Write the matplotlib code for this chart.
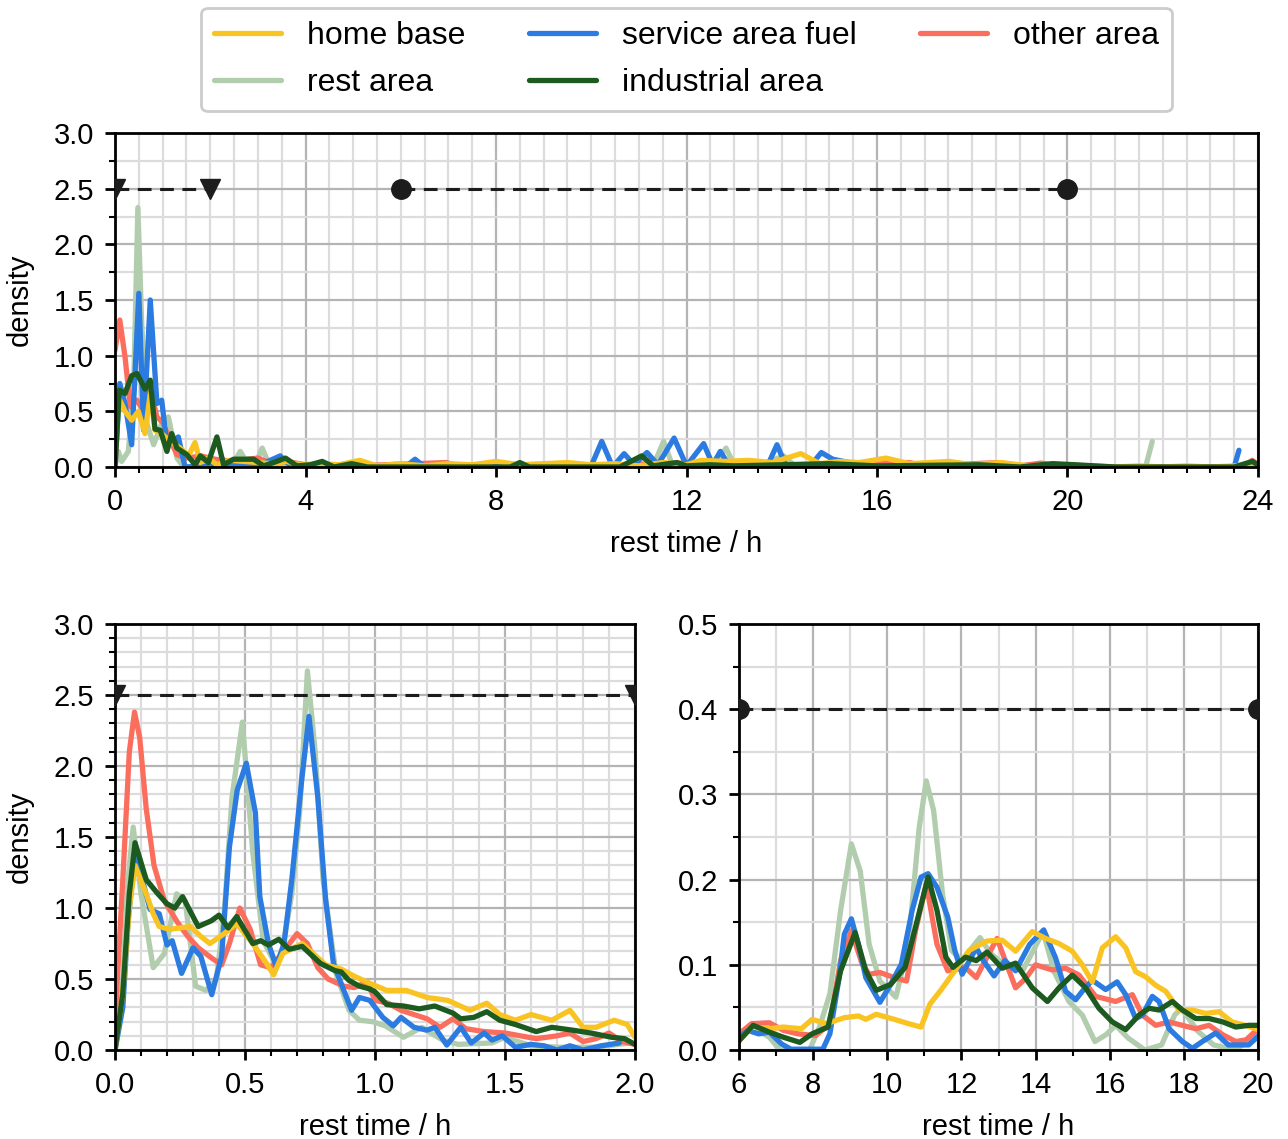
import numpy as np
import matplotlib
matplotlib.use("Agg")
import matplotlib.pyplot as plt
from matplotlib.ticker import MultipleLocator

plt.rcParams['font.family'] = ['Liberation Sans', 'DejaVu Sans']
plt.rcParams['font.size'] = 21

# categories and colours
categories = ['home base', 'rest area', 'service area fuel', 'industrial area', 'other area']
colors = {'home base': '#f9c422', 'rest area': '#b1cdae', 'service area fuel': '#2b7be0',
          'industrial area': '#1d5a1f', 'other area': '#fb6e5e'}
draw_order = ['rest area', 'other area', 'service area fuel', 'home base', 'industrial area']

# threshold ranges (h) and the density level they are drawn at
short_range = [0, 2]
long_range = [6, 20]
level_top = 2.5
level_short = 2.5
level_long = 0.4

# ---- top panel: 0-24 h
top_home_t = [0, 0.07, 0.21, 0.35, 0.49, 0.63, 0.74, 0.84, 0.98, 1.16, 1.37, 1.54, 1.68, 1.79, 1.96, 2.14,
              2.4, 2.7, 3.0, 3.3, 3.6, 3.9, 4.3, 4.7, 5.14, 5.5, 6.0, 6.5, 7.0, 7.5, 8.0, 8.5, 9.0, 9.5,
              10.0, 10.5, 11.0, 11.5, 12.0, 12.3, 12.8, 13.3, 13.8, 14.4, 14.8, 15.2, 15.63, 16.19, 16.68,
              17.1, 17.52, 18.0, 18.6, 19.2, 19.8, 20.5, 21.0, 21.5, 22.0, 22.5, 23.0, 23.5, 24.0]
top_home_d = [0, 0.63, 0.5, 0.42, 0.5, 0.3, 0.66, 0.33, 0.3, 0.23, 0.17, 0.1, 0.22, 0.04, 0.08, 0.02,
              0.06, 0.05, 0.04, 0.03, 0.05, 0.02, 0.03, 0.02, 0.06, 0.01, 0.03, 0.01, 0.03, 0.02, 0.05, 0.02,
              0.03, 0.04, 0.02, 0.03, 0.01, 0.04, 0.02, 0.06, 0.05, 0.06, 0.04, 0.12, 0.03, 0.05, 0.04, 0.08,
              0.03, 0.04, 0.05, 0.02, 0.04, 0.01, 0.02, 0.01, 0.0, 0.01, 0.0, 0.01, 0.0, 0.01, 0.03]
top_rest_t = [0, 0.07, 0.14, 0.28, 0.39, 0.48, 0.56, 0.67, 0.81, 0.98, 1.12, 1.3, 1.44, 2.0, 2.45, 2.63,
              2.8, 2.95, 3.09, 3.25, 3.6, 4.5, 6, 8, 9.5, 10.5, 11.3, 11.52, 11.7, 12.2, 12.6, 12.83, 13.0,
              13.5, 14.04, 14.3, 16, 18, 20, 21.64, 21.78]
top_rest_d = [0, 0.14, 0.05, 0.14, 0.69, 2.33, 1.29, 0.39, 0.2, 0.39, 0.45, 0.08, 0.0, 0.0, 0.01, 0.14,
              0.02, 0.02, 0.17, 0.01, 0.01, 0.0, 0.0, 0.0, 0.0, 0.02, 0.01, 0.23, 0.02, 0.01, 0.03, 0.17, 0.02,
              0.01, 0.1, 0.0, 0.0, 0.0, 0.0, 0.0, 0.23]
top_fuel_t = [0, 0.1, 0.21, 0.35, 0.5, 0.6, 0.74, 0.88, 0.98, 1.09, 1.33, 1.47, 2.0, 2.5, 3.0, 3.47, 3.7,
              4.5, 5.5, 6.1, 6.3, 6.5, 7.0, 7.5, 8.5, 9.5, 10.0, 10.22, 10.45, 10.69, 10.9, 11.17, 11.4,
              11.74, 12.0, 12.36, 12.55, 12.71, 12.9, 13.3, 13.7, 13.9, 14.1, 14.6, 14.83, 15.07, 15.42,
              15.7, 17, 19, 21, 23.0, 23.5, 23.6]
top_fuel_d = [0, 0.75, 0.57, 0.2, 1.56, 0.33, 1.5, 0.57, 0.6, 0.2, 0.27, 0.0, 0.01, 0.02, 0.01, 0.1, 0.0,
              0.0, 0.0, 0.0, 0.07, 0.0, 0.0, 0.01, 0.0, 0.0, 0.01, 0.23, 0.0, 0.12, 0.02, 0.13, 0.02,
              0.26, 0.01, 0.21, 0.02, 0.14, 0.01, 0.02, 0.01, 0.2, 0.0, 0.01, 0.13, 0.07, 0.04,
              0.0, 0.0, 0.0, 0.0, 0.0, 0.0, 0.15]
top_ind_t = [0, 0.09, 0.21, 0.35, 0.46, 0.63, 0.74, 0.84, 0.95, 1.09, 1.19, 1.3, 1.51, 1.68, 1.79, 1.96,
             2.14, 2.28, 2.49, 2.91, 3.12, 3.33, 3.58, 3.82, 4.1, 4.35, 4.6, 4.97, 5.3, 8.3, 8.5, 8.7,
             10.6, 11.06, 11.3, 11.8, 12.0, 12.5, 13.0, 14.0, 15.0, 16.0, 18.15, 19.0, 19.69, 20.17,
             21, 23.5, 23.88, 24]
top_ind_d = [0, 0.69, 0.66, 0.82, 0.84, 0.7, 0.78, 0.34, 0.33, 0.14, 0.3, 0.17, 0.11, 0.02, 0.1, 0.04,
             0.27, 0.02, 0.07, 0.07, 0.01, 0.04, 0.08, 0.01, 0.02, 0.05, 0.0, 0.03, 0.0, 0.0, 0.04, 0.0,
             0.0, 0.1, 0.01, 0.04, 0.01, 0.02, 0.01, 0.02, 0.03, 0.01, 0.02, 0.0, 0.03, 0.02,
             0.0, 0.0, 0.05, 0.02]
top_other_t = [0, 0.1, 0.21, 0.32, 0.46, 0.6, 0.74, 0.88, 1.0, 1.15, 1.3, 1.5, 1.8, 2.1, 2.5, 2.8, 3.0,
               3.3, 3.6, 4.0, 5.0, 6.96, 7.2, 8.0, 10.0, 11.3, 12.5, 13.0, 16.68, 17.0, 18.55, 19.0,
               19.44, 20.0, 23.7, 23.88, 24.0]
top_other_d = [1.05, 1.32, 0.99, 0.54, 0.6, 0.5, 0.7, 0.45, 0.4, 0.25, 0.11, 0.08, 0.1, 0.07, 0.05, 0.07,
               0.08, 0.03, 0.05, 0.02, 0.01, 0.04, 0.01, 0.01, 0.01, 0.03, 0.04, 0.01, 0.04, 0.01, 0.04,
               0.01, 0.035, 0.0, 0.0, 0.06, 0.02]

# ---- bottom left: 0-2 h
bl_home_t = [0, 0.03, 0.055, 0.077, 0.12, 0.147, 0.17, 0.21, 0.29, 0.33, 0.365, 0.42, 0.468, 0.53, 0.583,
             0.61, 0.645, 0.72, 0.75, 0.81, 0.87, 0.92, 0.98, 1.045, 1.12, 1.2, 1.28, 1.365, 1.43, 1.48,
             1.54, 1.6, 1.68, 1.75, 1.8, 1.85, 1.92, 1.97, 2.0]
bl_home_d = [0, 0.4, 1.0, 1.3, 1.1, 0.96, 0.87, 0.85, 0.87, 0.8, 0.75, 0.82, 0.89, 0.75, 0.61,
             0.53, 0.68, 0.75, 0.7, 0.6, 0.57, 0.52, 0.47, 0.42, 0.42, 0.37, 0.35, 0.28, 0.33, 0.25,
             0.21, 0.25, 0.21, 0.28, 0.16, 0.16, 0.21, 0.18, 0.09]
bl_rest_t = [0, 0.03, 0.05, 0.07, 0.1, 0.147, 0.19, 0.237, 0.27, 0.31, 0.35, 0.39, 0.42, 0.45, 0.49,
             0.53, 0.57, 0.61, 0.64, 0.68, 0.71, 0.74, 0.77, 0.8, 0.85, 0.9, 0.94, 0.99, 1.04, 1.11,
             1.18, 1.26, 1.32, 1.45, 1.5, 1.6, 1.71, 1.85, 1.98]
bl_rest_d = [0, 0.5, 1.2, 1.57, 1.1, 0.58, 0.68, 1.1, 1.05, 0.45, 0.42, 0.5, 0.96, 1.78, 2.31,
             1.39, 0.77, 0.63, 0.66, 1.1, 1.67, 2.67, 2.1, 1.2, 0.54, 0.28, 0.21, 0.2, 0.17, 0.09,
             0.16, 0.07, 0.04, 0.05, 0.09, 0.03, 0.02, 0.02, 0.05]
bl_fuel_t = [0, 0.03, 0.05, 0.075, 0.105, 0.135, 0.17, 0.2, 0.22, 0.256, 0.3, 0.33, 0.372, 0.41, 0.44,
             0.47, 0.505, 0.54, 0.557, 0.59, 0.62, 0.65, 0.68, 0.718, 0.746, 0.78, 0.81, 0.84, 0.88,
             0.91, 0.94, 0.98, 1.03, 1.07, 1.1, 1.15, 1.2, 1.23, 1.276, 1.33, 1.37, 1.42, 1.45, 1.49,
             1.54, 1.6, 1.65, 1.7, 1.75, 1.8, 1.87, 1.94]
bl_fuel_d = [0, 0.3, 0.9, 1.36, 1.2, 0.99, 0.96, 0.74, 0.77, 0.54, 0.72, 0.66, 0.39, 0.66, 1.43,
             1.83, 2.02, 1.67, 1.08, 0.75, 0.59, 0.75, 1.2, 1.9, 2.35, 1.78, 1.06, 0.61, 0.42,
             0.28, 0.37, 0.35, 0.23, 0.17, 0.23, 0.16, 0.14, 0.16, 0.035, 0.16, 0.05, 0.12, 0.07, 0.1,
             0.02, 0.04, 0.03, 0.0, 0.03, 0.0, 0.03, 0.05]
bl_ind_t = [0, 0.03, 0.055, 0.077, 0.12, 0.165, 0.2, 0.23, 0.26, 0.32, 0.37, 0.4, 0.435, 0.468, 0.53,
            0.56, 0.59, 0.63, 0.67, 0.72, 0.79, 0.845, 0.87, 0.9, 0.94, 0.98, 1.0, 1.045, 1.11, 1.17,
            1.23, 1.3, 1.33, 1.38, 1.43, 1.48, 1.54, 1.62, 1.68, 1.76, 1.83, 1.91, 1.96, 2.0]
bl_ind_d = [0, 0.4, 1.1, 1.46, 1.2, 1.1, 1.03, 1.0, 1.08, 0.87, 0.91, 0.95, 0.86, 0.94, 0.75,
            0.77, 0.74, 0.78, 0.71, 0.73, 0.61, 0.56, 0.55, 0.49, 0.45, 0.43, 0.41, 0.32, 0.31, 0.29,
            0.31, 0.26, 0.22, 0.23, 0.27, 0.21, 0.18, 0.13, 0.16, 0.14, 0.12, 0.09, 0.08, 0.04]
bl_other_t = [0, 0.03, 0.055, 0.075, 0.095, 0.12, 0.15, 0.19, 0.24, 0.28, 0.32, 0.37, 0.41, 0.44, 0.48,
              0.52, 0.56, 0.6, 0.65, 0.7, 0.74, 0.78, 0.82, 0.88, 0.92, 0.97, 1.0, 1.05, 1.1, 1.15, 1.2,
              1.25, 1.3, 1.35, 1.42, 1.5, 1.56, 1.62, 1.7, 1.75, 1.8, 1.85, 1.9, 1.95, 2.0]
bl_other_d = [0.2, 1.2, 2.1, 2.38, 2.2, 1.7, 1.3, 1.05, 0.9, 0.8, 0.72, 0.65, 0.6, 0.75, 1.0,
              0.85, 0.6, 0.58, 0.7, 0.82, 0.75, 0.58, 0.5, 0.45, 0.44, 0.48, 0.35, 0.33, 0.28, 0.25, 0.22,
              0.16, 0.22, 0.15, 0.13, 0.12, 0.1, 0.08, 0.1, 0.12, 0.06, 0.08, 0.12, 0.06, 0.04]

# ---- bottom right: 6-20 h
br_home_t = [6, 6.34, 6.82, 7.2, 7.68, 7.97, 8.36, 8.84, 9.22, 9.42, 9.7, 10.19, 10.57, 10.91, 11.15,
             11.44, 11.82, 12.21, 12.69, 13.1, 13.46, 13.91, 14.27, 14.63, 14.99, 15.26, 15.53, 15.8,
             16.16, 16.43, 16.7, 16.97, 17.24, 17.51, 17.87, 18.23, 18.59, 18.95, 19.3, 19.66, 20]
br_home_d = [0.011, 0.027, 0.025, 0.027, 0.025, 0.036, 0.031, 0.038, 0.04, 0.036, 0.042, 0.036, 0.031,
             0.027, 0.054, 0.07, 0.093, 0.117, 0.128, 0.129, 0.116, 0.139, 0.131, 0.125, 0.116, 0.1,
             0.08, 0.12, 0.133, 0.12, 0.092, 0.086, 0.076, 0.069, 0.047, 0.047, 0.043, 0.045, 0.033,
             0.029, 0.024]
br_rest_t = [6, 6.34, 6.82, 7.1, 7.9, 8.17, 8.45, 8.74, 9.03, 9.27, 9.51, 9.8, 10.23, 10.57, 10.86,
             11.05, 11.25, 11.49, 11.73, 12.01, 12.5, 12.79, 13.17, 13.65, 13.94, 14.2, 14.5, 14.9,
             15.26, 15.6, 15.9, 16.16, 16.5, 16.95, 17.4, 17.75, 17.93, 18.38, 18.8, 19.4, 20]
br_rest_d = [0.011, 0.027, 0.015, 0.0, 0.0, 0.027, 0.066, 0.164, 0.242, 0.21, 0.124, 0.081, 0.062,
             0.124, 0.261, 0.316, 0.281, 0.183, 0.117, 0.105, 0.132, 0.113, 0.1, 0.093, 0.117, 0.139,
             0.092, 0.057, 0.041, 0.01, 0.018, 0.029, 0.014, 0.0, 0.006, 0.041, 0.049, 0.022, 0.006,
             0.0, 0.02]
br_fuel_t = [6, 6.24, 6.53, 6.82, 7.15, 7.4, 8.26, 8.45, 8.7, 8.84, 9.03, 9.22, 9.42, 9.8, 10.09,
             10.38, 10.67, 10.91, 11.1, 11.34, 11.63, 11.82, 12.02, 12.4, 12.59, 12.88, 13.17, 13.46,
             13.84, 14.22, 14.54, 14.81, 15.08, 15.26, 15.53, 15.89, 16.2, 16.43, 16.7, 16.88, 17.15,
             17.33, 17.6, 17.96, 18.23, 18.5, 18.86, 19.2, 19.75, 20]
br_fuel_d = [0.015, 0.023, 0.019, 0.021, 0.007, 0.001, 0.001, 0.019, 0.085, 0.136, 0.154, 0.124,
             0.085, 0.056, 0.077, 0.101, 0.164, 0.203, 0.207, 0.191, 0.156, 0.117, 0.089, 0.12, 0.105,
             0.087, 0.105, 0.093, 0.124, 0.141, 0.108, 0.069, 0.059, 0.069, 0.082, 0.071, 0.08, 0.065,
             0.037, 0.041, 0.063, 0.057, 0.025, 0.01, 0.002, 0.01, 0.02, 0.006, 0.006, 0.016]
br_ind_t = [6, 6.38, 6.82, 7.2, 7.64, 7.97, 8.4, 8.74, 9.13, 9.42, 9.7, 10.09, 10.48, 10.76, 11.1,
            11.34, 11.58, 11.77, 12.11, 12.4, 12.69, 13.1, 13.46, 13.91, 14.32, 14.63, 14.99, 15.35,
            15.71, 16.07, 16.43, 16.79, 17.06, 17.33, 17.69, 17.96, 18.32, 18.68, 19.05, 19.4, 19.75, 20]
br_ind_d = [0.011, 0.029, 0.021, 0.015, 0.009, 0.019, 0.027, 0.093, 0.138, 0.093, 0.07, 0.077, 0.097,
            0.144, 0.203, 0.164, 0.109, 0.097, 0.109, 0.105, 0.115, 0.096, 0.102, 0.073, 0.057, 0.073,
            0.088, 0.073, 0.049, 0.033, 0.024, 0.041, 0.049, 0.047, 0.057, 0.047, 0.037, 0.037, 0.033,
            0.027, 0.029, 0.029]
br_other_t = [6, 6.34, 6.82, 7.2, 7.59, 8.07, 8.45, 8.74, 9.03, 9.32, 9.51, 9.8, 10.19, 10.52, 10.76,
              11.05, 11.34, 11.63, 12.1, 12.4, 12.69, 12.96, 13.19, 13.46, 13.73, 14.0, 14.45, 14.81,
              15.17, 15.62, 16.16, 16.61, 16.88, 17.24, 17.6, 17.96, 18.32, 18.68, 19.05, 19.4, 19.68, 20]
br_other_d = [0.019, 0.031, 0.032, 0.023, 0.019, 0.017, 0.031, 0.105, 0.14, 0.101, 0.089, 0.091,
              0.085, 0.081, 0.14, 0.195, 0.124, 0.093, 0.097, 0.085, 0.109, 0.131, 0.104, 0.073, 0.084,
              0.1, 0.094, 0.096, 0.088, 0.063, 0.057, 0.065, 0.041, 0.029, 0.033, 0.029, 0.025, 0.029,
              0.018, 0.01, 0.012, 0.025]

top_series = {'home base': (top_home_t, top_home_d), 'rest area': (top_rest_t, top_rest_d),
              'service area fuel': (top_fuel_t, top_fuel_d), 'industrial area': (top_ind_t, top_ind_d),
              'other area': (top_other_t, top_other_d)}
bl_series = {'home base': (bl_home_t, bl_home_d), 'rest area': (bl_rest_t, bl_rest_d),
             'service area fuel': (bl_fuel_t, bl_fuel_d), 'industrial area': (bl_ind_t, bl_ind_d),
             'other area': (bl_other_t, bl_other_d)}
br_series = {'home base': (br_home_t, br_home_d), 'rest area': (br_rest_t, br_rest_d),
             'service area fuel': (br_fuel_t, br_fuel_d), 'industrial area': (br_ind_t, br_ind_d),
             'other area': (br_other_t, br_other_d)}


def style_axes(ax, xlim, ylim, xmaj, xmin, ymaj, ymin):
    ax.set_xlim(*xlim)
    ax.set_ylim(*ylim)
    ax.xaxis.set_major_locator(MultipleLocator(xmaj))
    ax.xaxis.set_minor_locator(MultipleLocator(xmin))
    ax.yaxis.set_major_locator(MultipleLocator(ymaj))
    ax.yaxis.set_minor_locator(MultipleLocator(ymin))
    ax.grid(which='major', color='#b4b4b4', linewidth=1.6)
    ax.grid(which='minor', color='#dcdcdc', linewidth=1.6)
    ax.set_axisbelow(True)
    for s in ax.spines.values():
        s.set_linewidth(2)
        s.set_color('black')
    ax.tick_params(which='major', direction='out', length=7, width=2, labelsize=21, pad=8)
    ax.tick_params(which='minor', direction='out', length=4.5, width=1.5)
    ax.set_xlabel('rest time / h', fontsize=21, labelpad=10)


def draw(ax, series):
    handles = {}
    for cat in draw_order:
        t, d = series[cat]
        h, = ax.plot(t, d, color=colors[cat], linewidth=3.8, label=cat,
                     solid_joinstyle='round', solid_capstyle='round')
        handles[cat] = h
    return handles


fig = plt.figure(figsize=(12.88, 11.39), dpi=100)
ax_top = fig.add_axes([0.0893, 0.590, 0.8874, 0.2932])
ax_bl = fig.add_axes([0.0893, 0.0781, 0.4037, 0.3740])
ax_br = fig.add_axes([0.5738, 0.0781, 0.4029, 0.3740])

dash = dict(color='#1c1c1c', linestyle='--', linewidth=2.2, dashes=(4.5, 2.8), zorder=5)

handles = draw(ax_top, top_series)
ax_top.plot(short_range, [level_top] * 2, marker='v', markersize=14, **dash)
ax_top.plot(long_range, [level_top] * 2, marker='o', markersize=14, **dash)
style_axes(ax_top, (0, 24), (0, 3.0), 4, 0.5, 0.5, 0.25)
ax_top.set_ylabel('density', fontsize=21, labelpad=14)

draw(ax_bl, bl_series)
ax_bl.plot(short_range, [level_short] * 2, marker='v', markersize=14, **dash)
style_axes(ax_bl, (0, 2.0), (0, 3.0), 0.5, 0.1, 0.5, 0.1)
ax_bl.set_ylabel('density', fontsize=21, labelpad=14)

draw(ax_br, br_series)
ax_br.plot(long_range, [level_long] * 2, marker='o', markersize=14, **dash)
style_axes(ax_br, (6, 20), (0, 0.5), 2, 1, 0.1, 0.05)

leg = fig.legend([handles[c] for c in categories], categories, ncol=3, loc='upper center',
                 bbox_to_anchor=(0.533, 0.993), borderaxespad=0, fontsize=23, frameon=True,
                 fancybox=True, edgecolor='#cccccc', framealpha=1, handlelength=2.1,
                 handletextpad=0.8, columnspacing=2.0, labelspacing=0.55, borderpad=0.4)
leg.get_frame().set_linewidth(2)

fig.savefig('out.png', dpi=100)
